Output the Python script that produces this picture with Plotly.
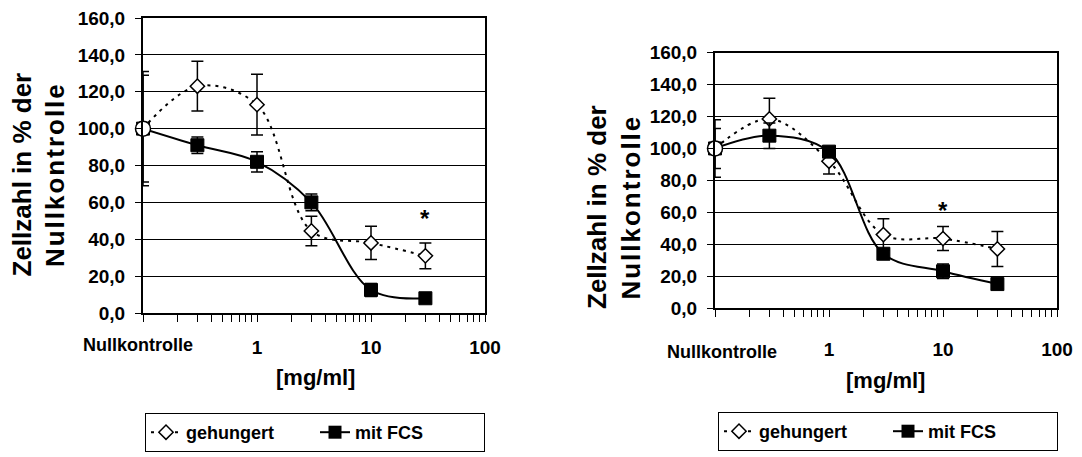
import numpy as np
import plotly.graph_objects as go

# ---------------- data ----------------
conc = [0.1, 0.3, 1, 3, 10, 30]          # 0.1 = Nullkontrolle position

geh_left = [100, 123, 113, 44.5, 38, 31]
geh_left_err = [31, 13.5, 16.5, 8, 9, 7]
fcs_left = [100, 91, 82, 60, 12.5, 8]
fcs_left_err = [29, 4.5, 5.5, 4.5, 3.5, 2]

geh_right = [100, 118.5, 92, 46, 43.5, 37]
geh_right_err = [18, 13, 8, 10, 7.5, 11]
fcs_right = [100, 108, 98, 34, 23, 15]
fcs_right_err = [12.5, 8, 3, 3, 4.5, 3]

x_tickvals = [0.1, 0.2, 0.3, 0.4, 0.5, 0.6, 0.7, 0.8, 0.9,
              1, 2, 3, 4, 5, 6, 7, 8, 9,
              10, 20, 30, 40, 50, 60, 70, 80, 90, 100]
x_ticklabels = {1: "1", 10: "10", 100: "100"}
y_tickvals = [0, 20, 40, 60, 80, 100, 120, 140, 160]

star_left = (30, 51.5)
star_right = (10, 61)

series_names = ["gehungert", "mit FCS"]
# ---------------------------------------

FONT = "Liberation Sans, Arial, sans-serif"
W, H = 1082, 457

fig = go.Figure()

def add_panel(xa, ya, leg, geh, geh_err, fcs, fcs_err):
    xref = "x" if xa == "xaxis" else "x2"
    yref = "y" if ya == "yaxis" else "y2"
    err_style = dict(type="data", visible=True, color="black", thickness=1.5, width=6)
    fig.add_trace(go.Scatter(
        x=conc, y=geh, xaxis=xref, yaxis=yref, mode="lines+markers",
        line=dict(color="black", width=2, dash="3px,5px", shape="spline", smoothing=1),
        marker=dict(symbol="diamond", size=11, color="white", line=dict(color="black", width=1.5)),
        error_y=dict(array=geh_err, **err_style),
        showlegend=False, cliponaxis=False))
    fig.add_trace(go.Scatter(
        x=conc, y=fcs, xaxis=xref, yaxis=yref, mode="lines+markers",
        line=dict(color="black", width=2, shape="spline", smoothing=1),
        marker=dict(symbol="square", size=13, color="black", line=dict(color="black", width=1)),
        error_y=dict(array=fcs_err, **err_style),
        showlegend=False, cliponaxis=False))
    # Nullkontrolle point
    fig.add_trace(go.Scatter(
        x=[conc[0]], y=[geh[0]], xaxis=xref, yaxis=yref, mode="markers",
        marker=dict(symbol="circle", size=15, color="white", line=dict(color="black", width=1.5)),
        showlegend=False, cliponaxis=False, hoverinfo="skip"))
    # legend entries
    fig.add_trace(go.Scatter(
        x=[None], y=[None], xaxis=xref, yaxis=yref, mode="lines+markers", name=series_names[0],
        line=dict(color="black", width=2, dash="3px,5px"),
        marker=dict(symbol="diamond", size=11, color="white", line=dict(color="black", width=1.5)),
        legend=leg))
    fig.add_trace(go.Scatter(
        x=[None], y=[None], xaxis=xref, yaxis=yref, mode="lines+markers", name=series_names[1],
        line=dict(color="black", width=2),
        marker=dict(symbol="square", size=13, color="black"),
        legend=leg))

add_panel("xaxis", "yaxis", "legend", geh_left, geh_left_err, fcs_left, fcs_left_err)
add_panel("xaxis2", "yaxis2", "legend2", geh_right, geh_right_err, fcs_right, fcs_right_err)

ticktext = [x_ticklabels.get(v, "") for v in x_tickvals]

def xaxis_cfg(domain, standoff):
    return dict(domain=domain, type="log", range=[-1, 2], tickvals=x_tickvals, ticktext=ticktext,
                ticks="outside", ticklen=7, tickwidth=1, tickcolor="black",
                showgrid=False, zeroline=False, showline=True, linecolor="black", linewidth=2,
                mirror=True, ticklabelstandoff=standoff,
                tickfont=dict(family=FONT, size=19, color="black", weight="bold"))

def yaxis_cfg(domain, anchor):
    return dict(domain=domain, anchor=anchor, range=[0, 160], tickvals=y_tickvals, tickformat=".1f",
                ticks="outside", ticklen=6, tickwidth=1, tickcolor="black",
                showgrid=True, gridcolor="black", gridwidth=1, zeroline=False,
                showline=True, linecolor="black", linewidth=2, mirror=True,
                ticklabelstandoff=6,
                tickfont=dict(family=FONT, size=19, color="black", weight="bold"))

left_x = [143 / W, 485 / W]
right_x = [715 / W, 1057 / W]
left_y = [1 - 313 / H, 1 - 18 / H]
right_y = [1 - 308 / H, 1 - 52.7 / H]

xa1 = xaxis_cfg(left_x, 9); xa1["anchor"] = "y"
xa2 = xaxis_cfg(right_x, 16); xa2["anchor"] = "y2"

legend_common = dict(orientation="h", xanchor="left", yanchor="top", bgcolor="white",
                     bordercolor="black", borderwidth=1, entrywidth=124,
                     font=dict(family=FONT, size=18, color="black", weight="bold"))

ytitle = 'Zellzahl in % der<br><span style="letter-spacing:2px">Nullkontrolle</span>'

def ann(text, x, y, size, **kw):
    return dict(text=text, x=x, y=y, showarrow=False, xanchor="center", yanchor="middle",
                font=dict(family=FONT, size=size, color="black", weight="bold"), **kw)

annotations = [
    ann(ytitle, 38.5 / W, 1 - 175 / H, 26, xref="paper", yref="paper", textangle=-90),
    ann(ytitle, 614 / W, 1 - 207 / H, 26, xref="paper", yref="paper", textangle=-90),
    ann("Nullkontrolle", 138 / W, 1 - 345 / H, 18, xref="paper", yref="paper"),
    ann("Nullkontrolle", 722 / W, 1 - 352 / H, 18, xref="paper", yref="paper"),
    ann("[mg/ml]", 315 / W, 1 - 377 / H, 22, xref="paper", yref="paper"),
    ann("[mg/ml]", 885 / W, 1 - 380 / H, 22, xref="paper", yref="paper"),
    ann("*", np.log10(star_left[0]), star_left[1], 24, xref="x", yref="y"),
    ann("*", np.log10(star_right[0]), star_right[1], 24, xref="x2", yref="y2"),
]

fig.update_layout(
    width=W, height=H, margin=dict(l=0, r=0, t=0, b=0, autoexpand=False),
    paper_bgcolor="white", plot_bgcolor="white", separators=",.",
    xaxis=xa1, yaxis=yaxis_cfg(left_y, "x"),
    xaxis2=xa2, yaxis2=yaxis_cfg(right_y, "x2"),
    legend=dict(x=145 / W, y=1 - 413 / H, **legend_common),
    legend2=dict(x=718 / W, y=1 - 412 / H, **legend_common),
    annotations=annotations,
    font=dict(family=FONT, color="black"),
)

fig.write_html("out.html", config={"displayModeBar": False},
               post_script="document.body.style.margin='0';")
